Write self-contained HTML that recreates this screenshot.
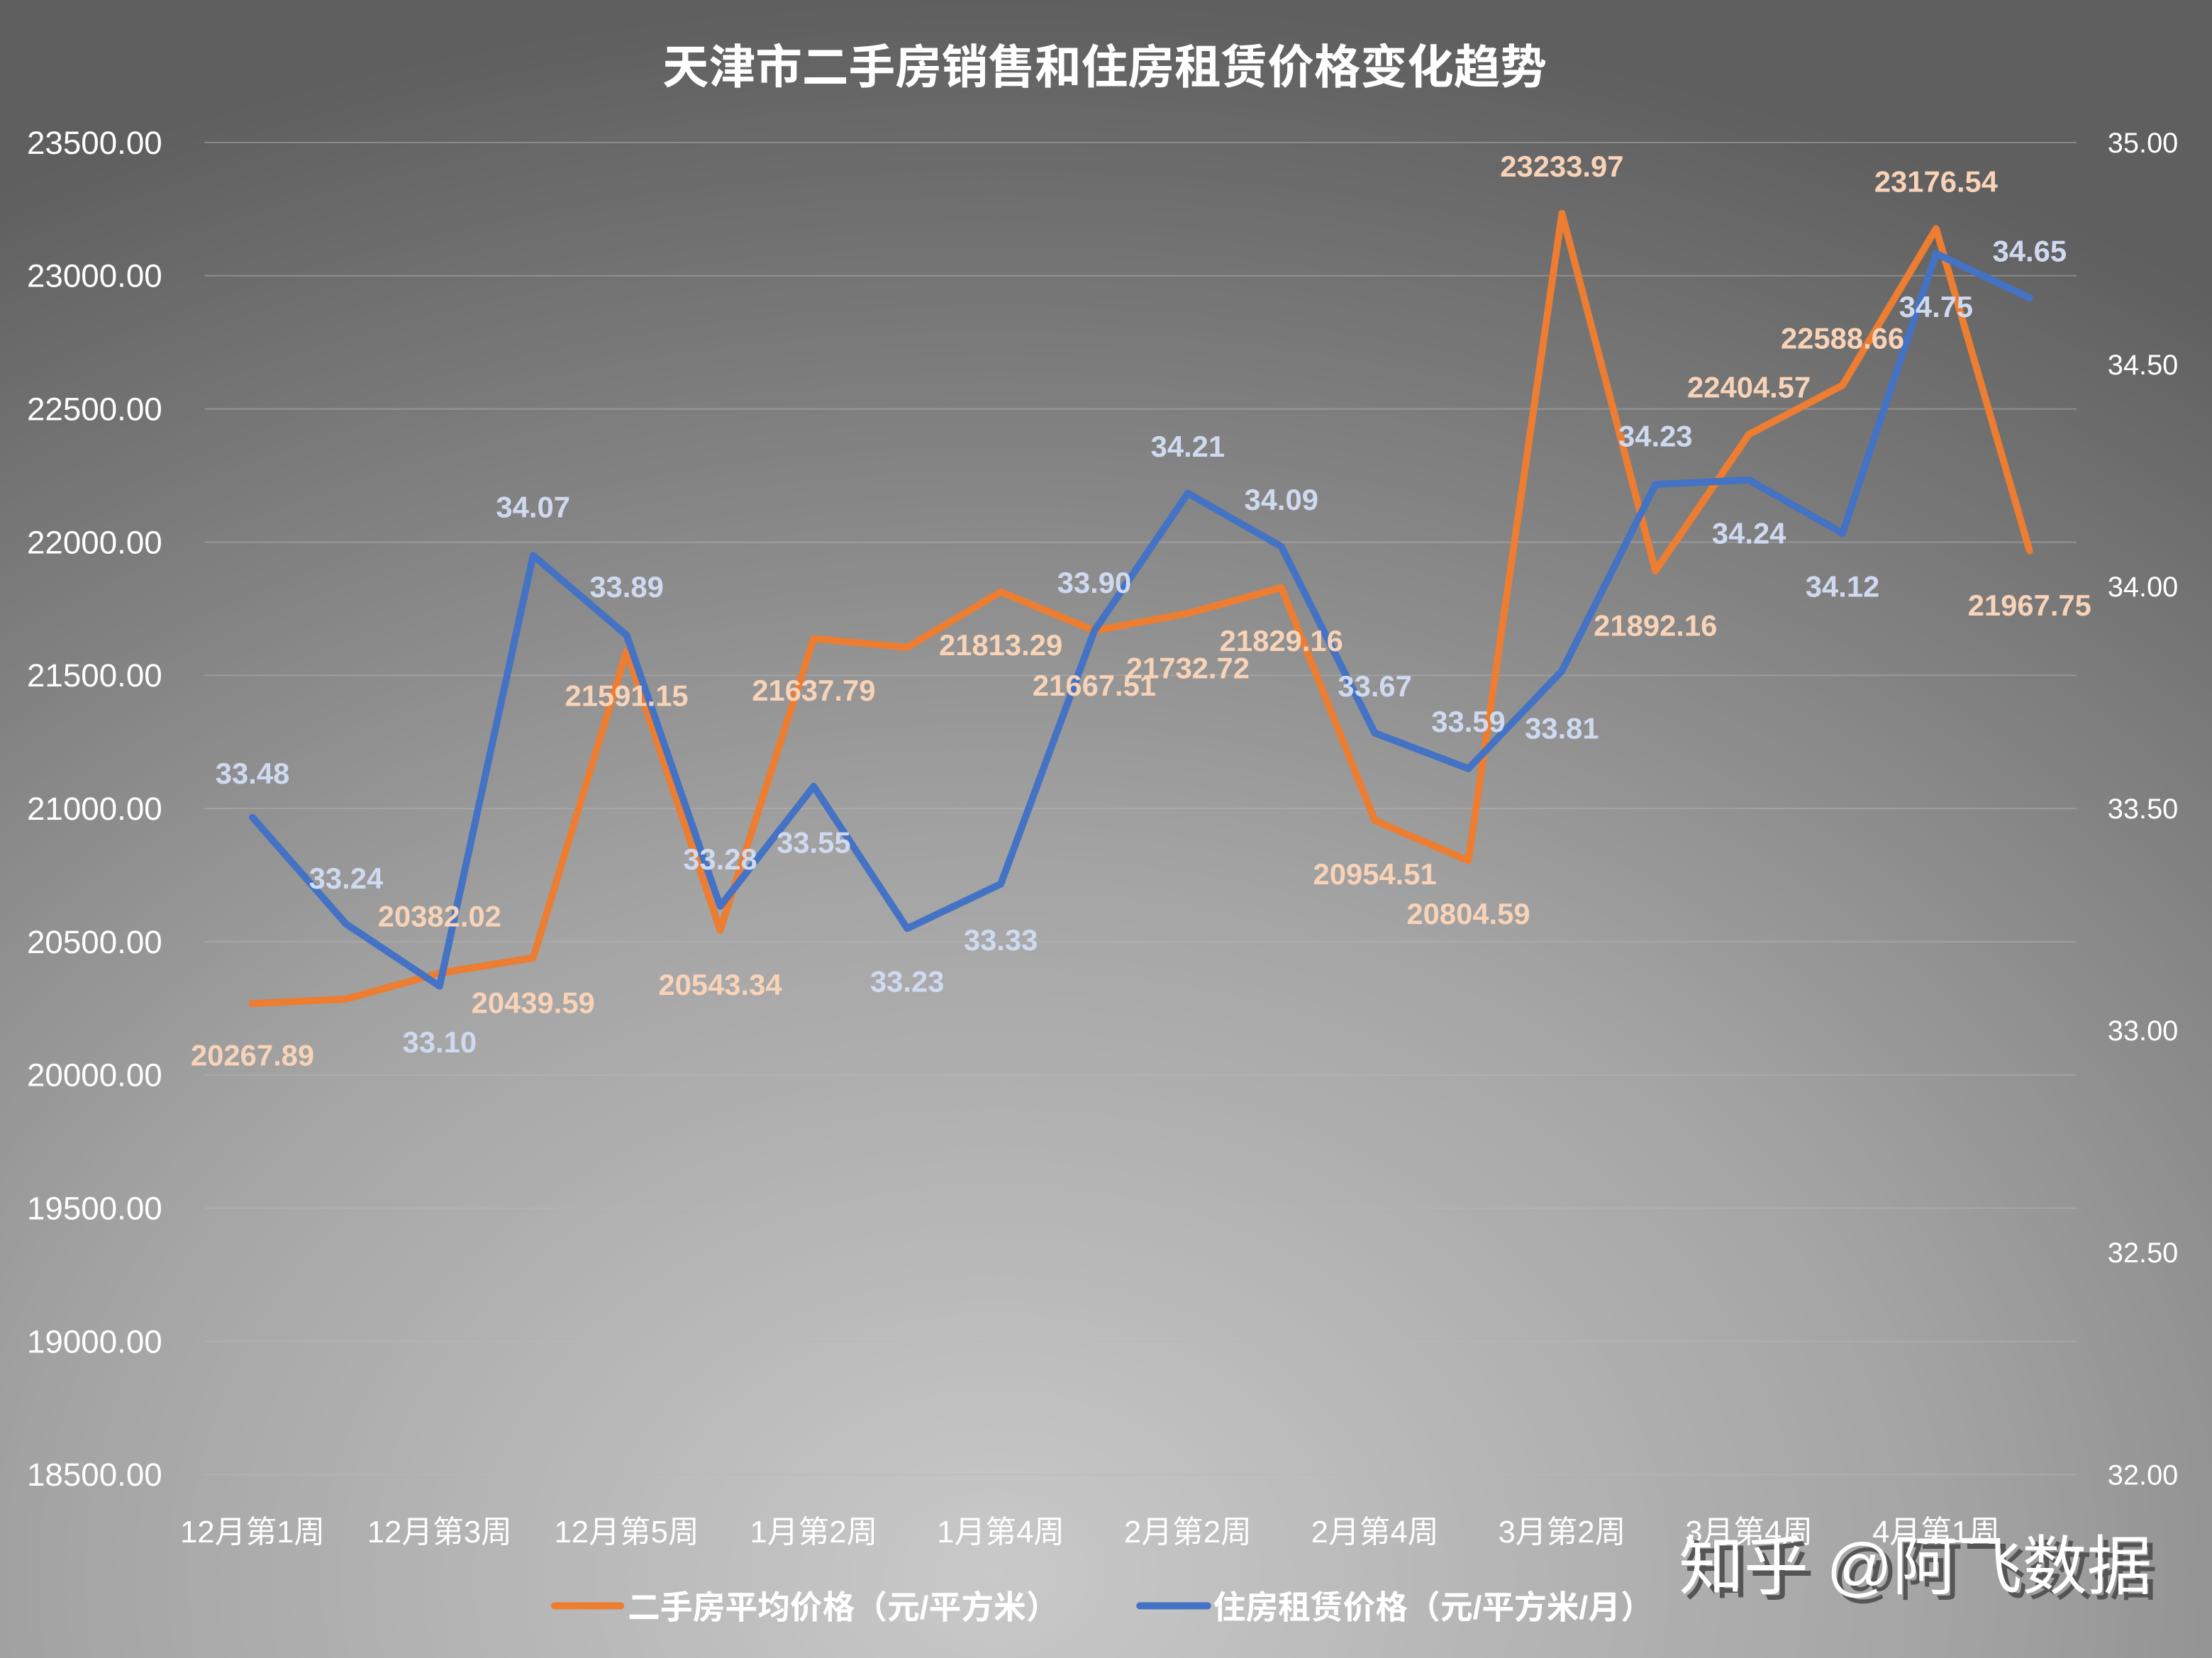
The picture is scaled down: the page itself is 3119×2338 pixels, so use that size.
<!DOCTYPE html>
<html><head><meta charset="utf-8">
<style>
html,body{margin:0;padding:0;width:3119px;height:2338px;overflow:hidden;background:#777;}
svg{display:block;}
text{font-family:"Liberation Sans","Noto Sans CJK SC",sans-serif;}
</style></head>
<body>
<svg id="chart" width="3119" height="2338" viewBox="0 0 1568 1175" preserveAspectRatio="none" xmlns="http://www.w3.org/2000/svg">
<defs>
<radialGradient id="bg" cx="0.45" cy="0.95" r="0.95" fx="0.45" fy="0.95">
<stop offset="0" stop-color="#c9c9c9"/>
<stop offset="0.45" stop-color="#a4a4a4"/>
<stop offset="1" stop-color="#5f5f5f"/>
</radialGradient>
</defs>
<rect x="0" y="0" width="1568" height="1175" fill="url(#bg)"/>
<text x="783" y="59" text-anchor="middle" font-size="33" font-weight="bold" fill="#fff">天津市二手房销售和住房租赁价格变化趋势</text>
<g id="grid"></g>
<g id="axes"></g>
<g id="lines"></g>
<g id="labels"></g>
<g>
<line x1="393" y1="1138" x2="440" y2="1138" stroke="#ed7d31" stroke-width="5" stroke-linecap="round"/>
<text x="445" y="1147" font-size="23" font-weight="bold" fill="#fff">二手房平均价格（元/平方米）</text>
<line x1="808" y1="1138" x2="856" y2="1138" stroke="#4472c4" stroke-width="5" stroke-linecap="round"/>
<text x="860" y="1147" font-size="23" font-weight="bold" fill="#fff">住房租赁价格（元/平方米/月）</text>
</g>
<text x="1190" y="1126" font-size="46" fill="#555" transform="translate(4,4)">知乎 @阿飞数据</text>
<text x="1190" y="1126" font-size="46" fill="#fff">知乎 @阿飞数据</text>
</svg>
<script>
const categories = ["12月第1周","12月第2周","12月第3周","12月第4周","12月第5周","1月第1周","1月第2周","1月第3周","1月第4周","2月第1周","2月第2周","2月第3周","2月第4周","3月第1周","3月第2周","3月第3周","3月第4周","3月第5周","4月第1周","4月第2周"];
const saleValues = [20267.89,20285,20382.02,20439.59,21591.15,20543.34,21637.79,21605,21813.29,21667.51,21732.72,21829.16,20954.51,20804.59,23233.97,21892.16,22404.57,22588.66,23176.54,21967.75];
const saleShown = [1,0,1,1,1,1,1,0,1,1,1,1,1,1,1,1,1,1,1,1];
const rentValues = [33.48,33.24,33.10,34.07,33.89,33.28,33.55,33.23,33.33,33.90,34.21,34.09,33.67,33.59,33.81,34.23,34.24,34.12,34.75,34.65];
const leftTicks = [18500,19000,19500,20000,20500,21000,21500,22000,22500,23000,23500];
const rightTicks = [32,32.5,33,33.5,34,34.5,35];
// label offsets (style): + below, - above
const saleLabelDy = [36,0,-41,31,31,38,36,0,37,38,38,37,37,37,-34,38,-34,-34,-34,38];
const rentLabelDy = [-32,-33,39,-35,-35,-34,39,37,39,-35,-34,-34,-34,-34,40,-35,37,37,37,-34];

const NS="http://www.w3.org/2000/svg";
const TOP=101, BOT=1045, X0=179, DX=66.3;
const xPos=i=>X0+i*DX;
const yL=v=>BOT-(v-18500)/5000*(BOT-TOP);
const yR=v=>BOT-(v-32)/3*(BOT-TOP);
function mk(tag,attrs,parent,txt){const e=document.createElementNS(NS,tag);for(const k in attrs)e.setAttribute(k,attrs[k]);if(txt!==undefined)e.textContent=txt;parent.appendChild(e);return e;}
const grid=document.getElementById('grid'),axes=document.getElementById('axes'),lines=document.getElementById('lines'),labels=document.getElementById('labels');
leftTicks.forEach(t=>{
  const g=mk('line',{x1:145,x2:1472,y1:yL(t),y2:yL(t),stroke:'#b8b8b8','stroke-opacity':0.45,'stroke-width':1},grid);
  
  
  const l=mk('text',{x:115,y:yL(t)+8,'text-anchor':'end','font-size':23,fill:'#fff'},axes,t.toFixed(2));
  
  
});
rightTicks.forEach(t=>{
  const l=mk('text',{x:1494,y:yR(t)+7,'font-size':20,fill:'#fff'},axes,t.toFixed(2));
  
  
});
categories.forEach((c,i)=>{
  if(i%2) return;
  const l=mk('text',{x:xPos(i),y:1093,'text-anchor':'middle','font-size':22,fill:'#fff'},axes,c);
  
  
});
const sp=mk('polyline',{points:saleValues.map((v,i)=>xPos(i)+','+yL(v)).join(' '),fill:'none',stroke:'#ed7d31','stroke-width':5,'stroke-linejoin':'round','stroke-linecap':'round'},lines);


const rp=mk('polyline',{points:rentValues.map((v,i)=>xPos(i)+','+yR(v)).join(' '),fill:'none',stroke:'#4472c4','stroke-width':5,'stroke-linejoin':'round','stroke-linecap':'round'},lines);


saleValues.forEach((v,i)=>{
  if(!saleShown[i]) return;
  const t=mk('text',{x:xPos(i),y:yL(v)+saleLabelDy[i]+8,'text-anchor':'middle','font-size':21,'font-weight':'bold','font-family':'"DejaVu Sans",sans-serif',fill:'#f8d3b8'},labels,v.toFixed(2));
  
  
});
rentValues.forEach((v,i)=>{
  const t=mk('text',{x:xPos(i),y:yR(v)+rentLabelDy[i]+8,'text-anchor':'middle','font-size':21,'font-weight':'bold','font-family':'"DejaVu Sans",sans-serif',fill:'#cfdaf0'},labels,v.toFixed(2));
  
  
});
</script>
</body></html>
